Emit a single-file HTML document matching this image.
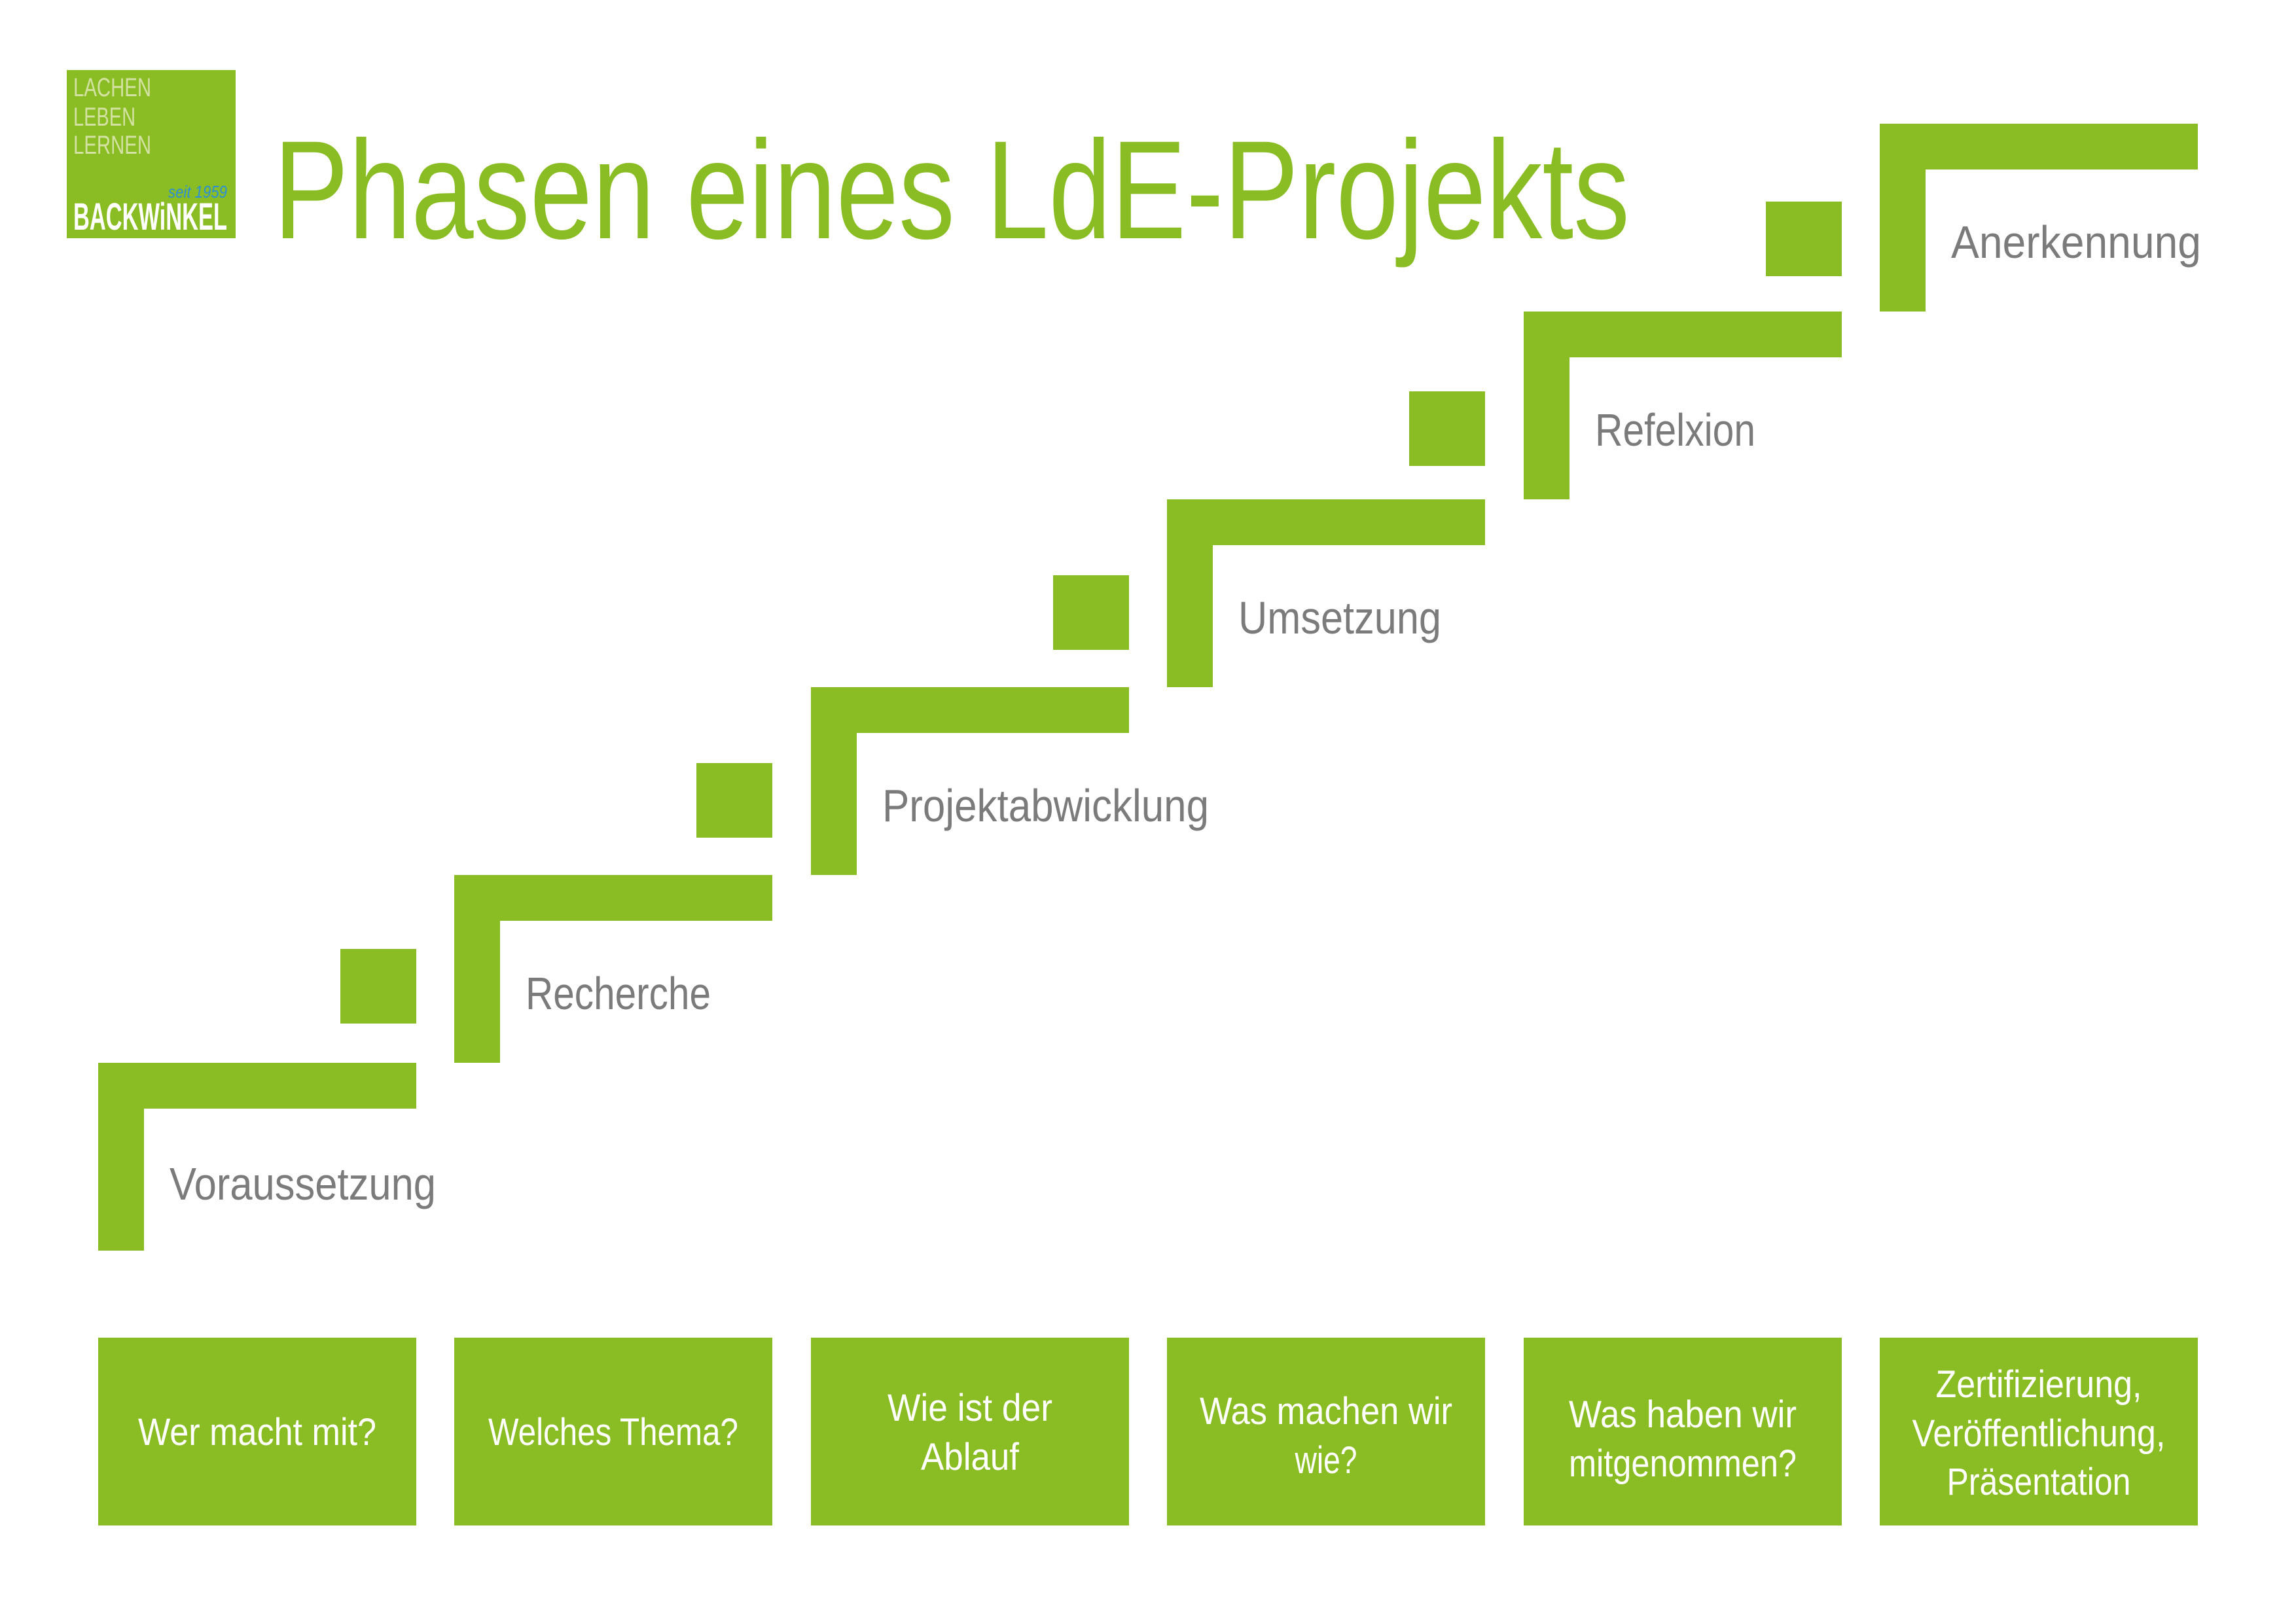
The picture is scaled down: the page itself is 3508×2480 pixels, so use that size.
<!DOCTYPE html>
<html><head><meta charset="utf-8"><style>
html,body{margin:0;padding:0;background:#fff;}
svg{display:block;}
</style></head><body>
<svg width="3508" height="2480" viewBox="0 0 3508 2480" xmlns="http://www.w3.org/2000/svg" font-family="'Liberation Sans', 'DejaVu Sans', sans-serif">
<rect width="3508" height="2480" fill="#fff"/>
<!-- logo -->
<rect x="102" y="107" width="258" height="257" fill="#8abd23"/>
<g fill="#d3e2a3" font-size="40">
<text x="112" y="147" textLength="119" lengthAdjust="spacingAndGlyphs">LACHEN</text>
<text x="112" y="192" textLength="95" lengthAdjust="spacingAndGlyphs">LEBEN</text>
<text x="112" y="235" textLength="119" lengthAdjust="spacingAndGlyphs">LERNEN</text>
</g>
<text x="257" y="302" font-size="26" font-style="italic" fill="#2a8fd6" textLength="90" lengthAdjust="spacingAndGlyphs">seit 1959</text>
<text x="112" y="351" font-size="58" font-weight="bold" fill="#fff" textLength="235" lengthAdjust="spacingAndGlyphs">BACKWiNKEL</text>
<!-- title -->
<text x="418" y="364" font-size="214" fill="#8abd23" textLength="2072" lengthAdjust="spacingAndGlyphs">Phasen eines LdE-Projekts</text>
<g fill="#8abd23">
<!-- steps -->
<path d="M150 1624H636V1694H220V1911H150Z"/>
<path d="M694 1337H1180V1407H764V1624H694Z"/>
<path d="M1239 1050H1725V1120H1309V1337H1239Z"/>
<path d="M1783 763H2269V833H1853V1050H1783Z"/>
<path d="M2328 476H2814V546H2398V763H2328Z"/>
<path d="M2872 189H3358V259H2942V476H2872Z"/>
<!-- squares -->
<rect x="520" y="1450" width="116" height="114"/>
<rect x="1064" y="1166" width="116" height="114"/>
<rect x="1609" y="879" width="116" height="114"/>
<rect x="2153" y="598" width="116" height="114"/>
<rect x="2698" y="308" width="116" height="114"/>
<!-- boxes -->
<rect x="150" y="2044" width="486" height="287"/>
<rect x="694" y="2044" width="486" height="287"/>
<rect x="1239" y="2044" width="486" height="287"/>
<rect x="1783" y="2044" width="486" height="287"/>
<rect x="2328" y="2044" width="486" height="287"/>
<rect x="2872" y="2044" width="486" height="287"/>
</g>
<!-- step labels -->
<g fill="#7c7b7c" font-size="70">
<text x="259" y="1833" textLength="407" lengthAdjust="spacingAndGlyphs">Voraussetzung</text>
<text x="803" y="1542" textLength="283" lengthAdjust="spacingAndGlyphs">Recherche</text>
<text x="1348" y="1255" textLength="499" lengthAdjust="spacingAndGlyphs">Projektabwicklung</text>
<text x="1892" y="968" textLength="310" lengthAdjust="spacingAndGlyphs">Umsetzung</text>
<text x="2437" y="681" textLength="245" lengthAdjust="spacingAndGlyphs">Refelxion</text>
<text x="2981" y="394" textLength="382" lengthAdjust="spacingAndGlyphs">Anerkennung</text>
</g>
<!-- box labels -->
<g fill="#fff" font-size="58" text-anchor="middle">
<text x="393" y="2208" textLength="364" lengthAdjust="spacingAndGlyphs">Wer macht mit?</text>
<text x="937" y="2208" textLength="382" lengthAdjust="spacingAndGlyphs">Welches Thema?</text>
<text x="1482" y="2171" textLength="252" lengthAdjust="spacingAndGlyphs">Wie ist der</text>
<text x="1482" y="2246" textLength="150" lengthAdjust="spacingAndGlyphs">Ablauf</text>
<text x="2026" y="2176" textLength="386" lengthAdjust="spacingAndGlyphs">Was machen wir</text>
<text x="2026" y="2251" textLength="95" lengthAdjust="spacingAndGlyphs">wie?</text>
<text x="2571" y="2181" textLength="348" lengthAdjust="spacingAndGlyphs">Was haben wir</text>
<text x="2571" y="2256" textLength="348" lengthAdjust="spacingAndGlyphs">mitgenommen?</text>
<text x="3115" y="2135" textLength="315" lengthAdjust="spacingAndGlyphs">Zertifizierung,</text>
<text x="3115" y="2210" textLength="387" lengthAdjust="spacingAndGlyphs">Veröffentlichung,</text>
<text x="3115" y="2284" textLength="281" lengthAdjust="spacingAndGlyphs">Präsentation</text>
</g>
</svg>
</body></html>
